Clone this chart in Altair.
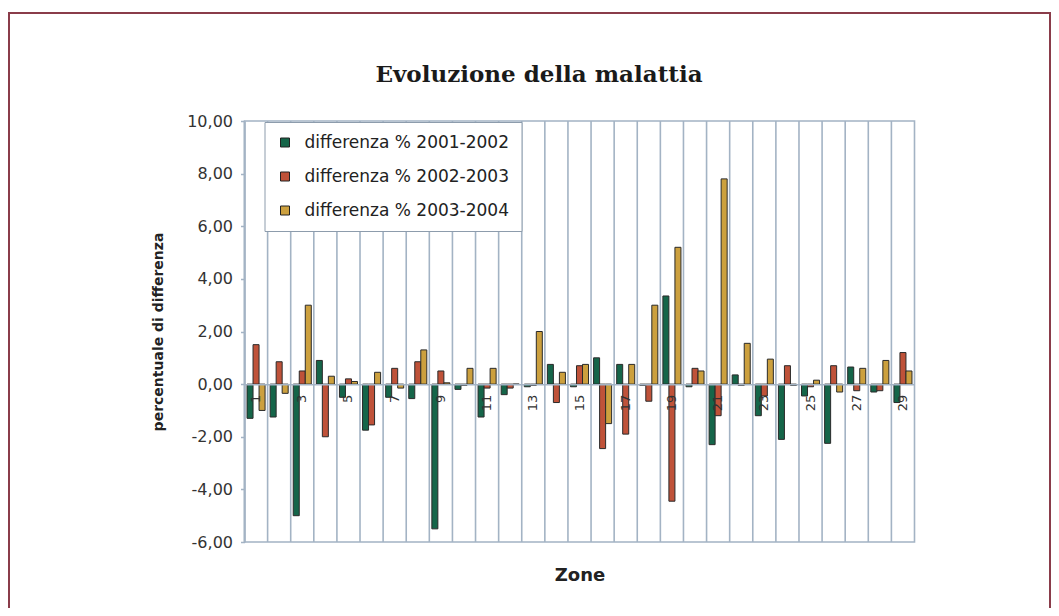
import altair as alt
import pandas as pd

# ---- data ----
zones = list(range(1, 30))
series_names = ["differenza % 2001-2002", "differenza % 2002-2003", "differenza % 2003-2004"]
diff_2001_2002 = [-1.3, -1.25, -5.0, 0.9, -0.5, -1.75, -0.5, -0.55, -5.5, -0.2,
                  -1.25, -0.4, -0.1, 0.75, -0.1, 1.0, 0.75, -0.05, 3.35, -0.1,
                  -2.3, 0.35, -1.2, -2.1, -0.45, -2.25, 0.65, -0.3, -0.7]
diff_2002_2003 = [1.5, 0.85, 0.5, -2.0, 0.2, -1.55, 0.6, 0.85, 0.5, -0.05,
                  -0.15, -0.15, -0.05, -0.7, 0.7, -2.45, -1.9, -0.65, -4.45, 0.6,
                  -1.2, -0.05, -0.45, 0.7, -0.1, 0.7, -0.25, -0.25, 1.2]
diff_2003_2004 = [-1.0, -0.35, 3.0, 0.3, 0.1, 0.45, -0.15, 1.3, 0.05, 0.6,
                  0.6, 0.0, 2.0, 0.45, 0.75, -1.5, 0.75, 3.0, 5.2, 0.5,
                  7.8, 1.55, 0.95, -0.05, 0.15, -0.3, 0.6, 0.9, 0.5]
y_ticks = [-6, -4, -2, 0, 2, 4, 6, 8, 10]
colors = ["#156549", "#bf5239", "#cca03e"]
chart_title = "Evoluzione della malattia"

rows = []
for name, vals in zip(series_names, [diff_2001_2002, diff_2002_2003, diff_2003_2004]):
    for z, v in zip(zones, vals):
        rows.append({"zone": z, "serie": name, "valore": v})
df = pd.DataFrame(rows)
grid_df = pd.DataFrame({"zone": zones})

W, H = 670, 421
Y_MIN, Y_MAX = -6, 10
GRID = "#a3b3c4"
zero_offset = -H * (0 - Y_MIN) / (Y_MAX - Y_MIN)

xscale = alt.Scale(domain=zones, paddingInner=0, paddingOuter=0)
yscale = alt.Scale(domain=[Y_MIN, Y_MAX], nice=False, zero=False)

x_axis = alt.Axis(
    title="Zone", orient="bottom", offset=zero_offset, grid=False, ticks=False,
    domain=True, domainColor=GRID, domainWidth=1.5, zindex=1,
    labelAngle=270, labelPadding=10, labelFontSize=13, labelFont="DejaVu Sans",
    labelColor="#333",
    labelExpr="datum.value % 2 == 1 ? datum.label : ''",
    titleY=191, titleBaseline="middle", titleFont="DejaVu Sans",
    titleFontSize=18, titleFontWeight="bold", titleColor="#222")

frame = alt.Chart(alt.Data(values=[{}])).mark_rect(
    fillOpacity=0, stroke="#8a3c4a", strokeWidth=2
).encode(
    x=alt.value(-235.5), x2=alt.value(805.5),
    y=alt.value(-108), y2=alt.value(H + 200)
)

title_text = alt.Chart(alt.Data(values=[{"t": chart_title}])).mark_text(
    font="DejaVu Serif", fontSize=23, fontWeight="bold", color="#1a1a1a",
    align="center", baseline="alphabetic"
).encode(x=alt.value(294.5), y=alt.value(-39), text="t:N")

grid = alt.Chart(grid_df).mark_rule(color=GRID, strokeWidth=1.6).encode(
    x=alt.X("zone:O", scale=xscale, bandPosition=0, axis=x_axis),
    y=alt.value(0), y2=alt.value(H)
)

bars = alt.Chart(df).mark_bar(stroke="#2a2a2a", strokeWidth=1).encode(
    x=alt.X("zone:O", scale=xscale, axis=x_axis),
    xOffset=alt.XOffset("serie:N", sort=series_names,
                        scale=alt.Scale(paddingOuter=0.42, paddingInner=0)),
    y=alt.Y("valore:Q", scale=yscale, axis=alt.Axis(
        values=y_ticks, grid=False, tickSize=4, tickColor=GRID, tickWidth=1.5,
        domainColor=GRID, domainWidth=1.5, labelPadding=8,
        labelFont="DejaVu Sans", labelFontSize=16, labelColor="#333",
        labelExpr="replace(replace(format(datum.value, '.2f'), '.', ','), '\u2212', '-')",
        title="percentuale di differenza", titleX=-86, titleY=H / 2,
        titleAngle=270, titleAlign="center", titleBaseline="middle",
        titleFont="DejaVu Sans", titleFontSize=14, titleFontWeight="bold",
        titleColor="#222")),
    color=alt.Color("serie:N", sort=series_names,
                    scale=alt.Scale(domain=series_names, range=colors),
                    legend=alt.Legend(
                        title=None, orient="none", legendX=20, legendY=1,
                        fillColor="white", strokeColor="#8d9cac", padding=12,
                        rowPadding=16, labelFont="DejaVu Sans", labelFontSize=17,
                        labelColor="#222", labelLimit=0, symbolType="square",
                        symbolSize=81, symbolStrokeColor="#222",
                        symbolStrokeWidth=1, labelOffset=11)),
)

chart = alt.layer(frame, title_text, grid, bars).properties(
    width=W, height=H,
    autosize=alt.AutoSizeParams(type="none"),
    padding={"left": 236.5, "top": 113, "right": 136.5, "bottom": 66},
    background="white",
).configure_view(stroke=GRID, strokeWidth=1.6)

chart.save("out.html", embed_options={"renderer": "svg", "actions": False})
